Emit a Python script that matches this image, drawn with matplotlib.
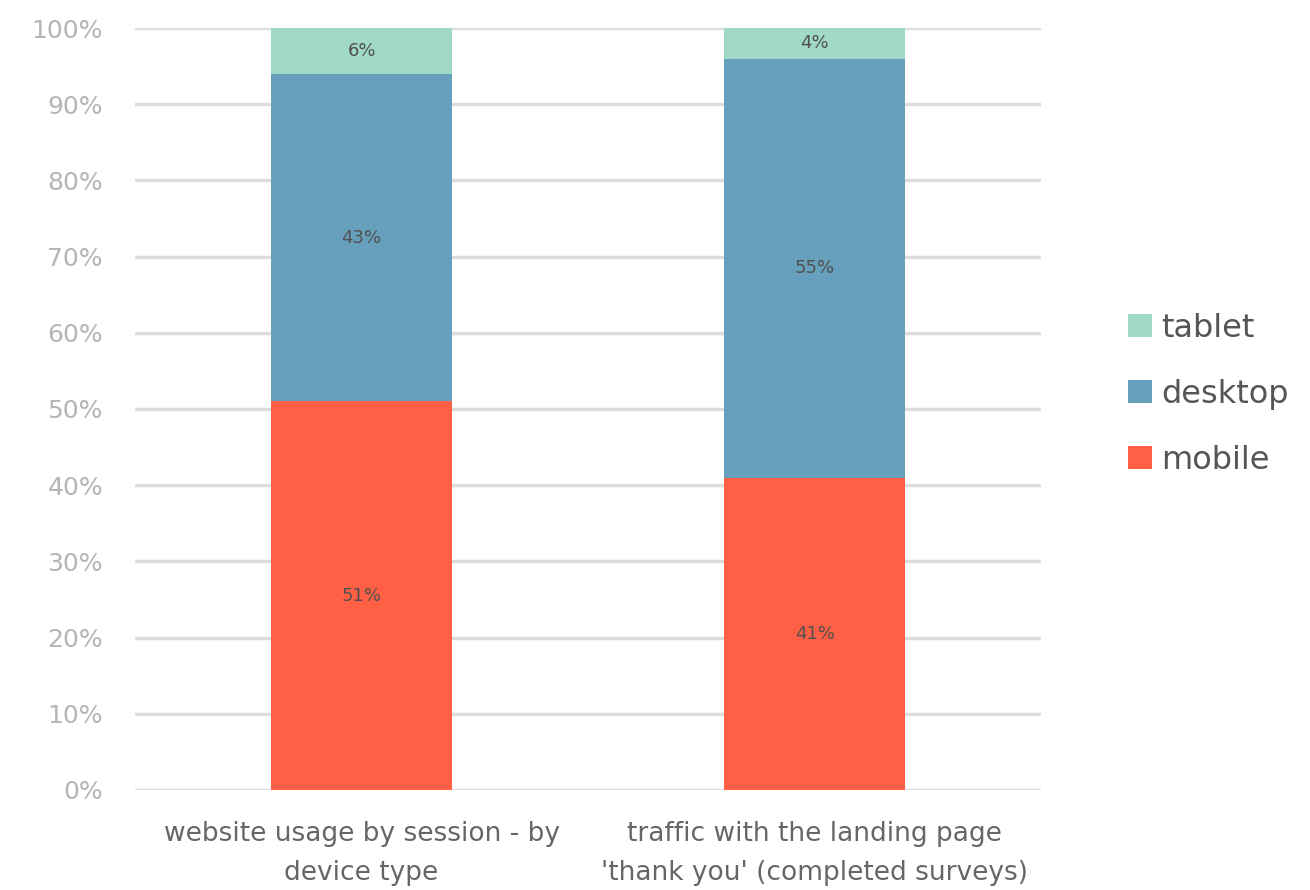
import matplotlib.pyplot as plt
import numpy as np

categories = ["website usage by session - by\ndevice type",
              "traffic with the landing page\n'thank you' (completed surveys)"]
mobile = [51, 41]
desktop = [43, 55]
tablet = [6, 4]
series_names = ["mobile", "desktop", "tablet"]
colors = ["#ff5f45", "#67a0bd", "#a0d9c8"]

fig = plt.figure(figsize=(13.1, 8.9), dpi=100)
ax = fig.add_axes([0.103, 0.1124, 0.692, 0.8561])

x = np.arange(len(categories))
bottom = np.zeros(len(categories))
handles = []
for name, vals, col in zip(series_names, [mobile, desktop, tablet], colors):
    vals = np.array(vals, dtype=float)
    bars = ax.bar(x, vals, 0.4, bottom=bottom, color=col, label=name, zorder=3)
    handles.append(bars)
    for xi, b, v in zip(x, bottom, vals):
        ax.text(xi, b + v / 2, f"{int(v)}%", ha="center", va="center",
                fontsize=13, color="#505050", zorder=4)
    bottom += vals

ax.set_xlim(-0.5, 1.5)
ax.set_ylim(0, 100)
ax.set_yticks(range(0, 101, 10))
ax.set_yticklabels([f"{t}%" for t in range(0, 101, 10)], fontsize=18, color="#b5b5b5")
ax.set_xticks(x)
ax.set_xticklabels(categories, fontsize=19, color="#666666", linespacing=1.65)
ax.tick_params(length=0, axis="y", pad=23)
ax.tick_params(length=0, axis="x", pad=22)
ax.yaxis.grid(True, color="#dddddd", linewidth=2.5, zorder=0)
for s in ax.spines.values():
    s.set_visible(False)

fig.legend(handles[::-1], series_names[::-1], loc="center left",
           bbox_to_anchor=(0.839, 0.557), frameon=False, fontsize=23,
           handlelength=0.75, handleheight=0.75, handletextpad=0.3,
           labelspacing=1.1, labelcolor="#555555")

fig.savefig("out.png", dpi=100)
